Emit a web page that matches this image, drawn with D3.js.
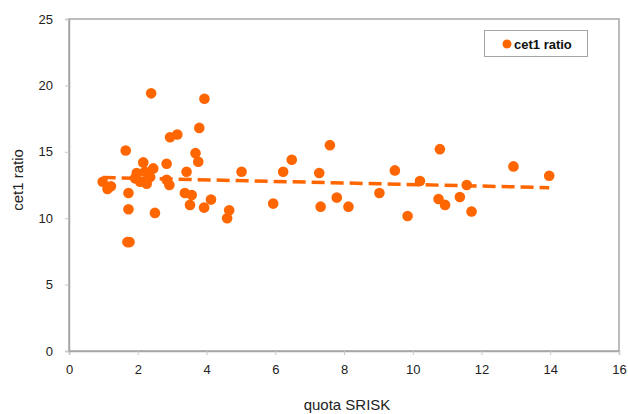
<!DOCTYPE html>
<html>
<head>
<meta charset="utf-8">
<script src="https://cdn.jsdelivr.net/npm/d3@7"></script>
<style>
  html, body { margin: 0; padding: 0; background: #fff; }
  svg { display: block; }
</style>
</head>
<body>
<div id="chart"></div>
<script>
// ---- data ----
const quotaSRISK = [
  2.39, 3.94, 3.79, 2.94, 3.15, 1.65, 3.68, 3.76, 2.16, 2.84,
  3.42, 2.45, 1.97, 2.21, 2.07, 2.26, 1.92, 2.36, 2.84, 2.92,
  0.98, 1.12, 1.22, 1.73, 1.73, 1.70, 1.76, 2.50, 3.37, 3.57,
  3.52, 4.13, 3.93, 4.66, 4.60, 5.02, 5.94, 6.23, 6.48, 7.28,
  7.59, 7.32, 7.79, 8.13, 9.03, 9.48, 9.85, 10.21, 10.79, 10.75,
  10.94, 11.37, 11.57, 11.71, 12.93, 13.97
];
const cet1Ratio = [
  19.4, 19.0, 16.8, 16.1, 16.3, 15.1, 14.9, 14.25, 14.2, 14.1,
  13.5, 13.75, 13.4, 13.5, 12.75, 12.6, 13.0, 13.1, 12.9, 12.5,
  12.75, 12.2, 12.4, 11.9, 10.67, 8.2, 8.2, 10.4, 11.9, 11.75,
  11.0, 11.4, 10.8, 10.6, 10.0, 13.5, 11.1, 13.5, 14.4, 13.4,
  15.5, 10.87, 11.55, 10.87, 11.9, 13.6, 10.17, 12.8, 15.2, 11.45,
  11.0, 11.6, 12.5, 10.5, 13.9, 13.2
];
const xTicks = [0, 2, 4, 6, 8, 10, 12, 14, 16];
const yTicks = [0, 5, 10, 15, 20, 25];
const seriesName = "cet1 ratio";
const xTitle = "quota SRISK";
const yTitle = "cet1 ratio";

// ---- layout ----
const W = 628, H = 414;
const plot = { left: 69, top: 19, right: 619, bottom: 351 };
const orange = "#FF6600";

const svg = d3.select("#chart").append("svg")
  .attr("width", W).attr("height", H)
  .style("font-family", "'Liberation Sans', Arial, sans-serif");

const x = d3.scaleLinear().domain([0, 16]).range([plot.left, plot.right]);
const y = d3.scaleLinear().domain([0, 25]).range([plot.bottom, plot.top]);

// plot border
svg.append("rect")
  .attr("x", plot.left).attr("y", plot.top)
  .attr("width", plot.right - plot.left).attr("height", plot.bottom - plot.top)
  .attr("fill", "#fff").attr("stroke", "#a6a6a6").attr("stroke-width", 1.5);

// axes
const xAxis = svg.append("g")
  .attr("transform", `translate(0,${plot.bottom})`)
  .call(d3.axisBottom(x).tickValues(xTicks).tickSize(4).tickPadding(10).tickFormat(d3.format("d")));
const yAxis = svg.append("g")
  .attr("transform", `translate(${plot.left},0)`)
  .call(d3.axisLeft(y).tickValues(yTicks).tickSize(4).tickPadding(12).tickFormat(d3.format("d")));
[xAxis, yAxis].forEach(g => {
  g.select(".domain").attr("stroke", "#a6a6a6").attr("stroke-width", 1.5);
  g.selectAll(".tick line").attr("stroke", "#c8c8c8");
  g.selectAll(".tick text").attr("fill", "#222").style("font-size", "13px")
    .style("font-family", "'Liberation Sans', Arial, sans-serif");
});

// points
const pts = quotaSRISK.map((v, i) => ({ x: v, y: cet1Ratio[i] }));
svg.append("g").selectAll("circle").data(pts).enter().append("circle")
  .attr("cx", d => x(d.x)).attr("cy", d => y(d.y)).attr("r", 5.3)
  .attr("fill", orange);

// linear trendline (least squares)
const mx = d3.mean(quotaSRISK), my = d3.mean(cet1Ratio);
const slope = d3.sum(pts, d => (d.x - mx) * (d.y - my)) / d3.sum(pts, d => (d.x - mx) ** 2);
const icpt = my - slope * mx;
const [x0, x1] = d3.extent(quotaSRISK);
svg.append("line")
  .attr("x1", x(x0)).attr("y1", y(icpt + slope * x0))
  .attr("x2", x(x1)).attr("y2", y(icpt + slope * x1))
  .attr("stroke", orange).attr("stroke-width", 3.5)
  .attr("stroke-dasharray", "13,6");

// legend
const lg = svg.append("g");
lg.append("rect").attr("x", 484.5).attr("y", 30.5).attr("width", 103).attr("height", 26)
  .attr("fill", "#fff").attr("stroke", "#a6a6a6").attr("stroke-width", 1);
lg.append("circle").attr("cx", 507).attr("cy", 44).attr("r", 4.5).attr("fill", orange);
lg.append("text").attr("x", 514).attr("y", 48.5).text(seriesName)
  .style("font-size", "13px").style("font-weight", "bold").attr("fill", "#111");

// axis titles
svg.append("text").attr("x", 347).attr("y", 410)
  .attr("text-anchor", "middle").style("font-size", "15px").attr("fill", "#222").text(xTitle);
svg.append("text").attr("transform", `translate(23,180) rotate(-90)`)
  .attr("text-anchor", "middle").style("font-size", "15px").attr("fill", "#222").text(yTitle);
</script>
</body>
</html>
